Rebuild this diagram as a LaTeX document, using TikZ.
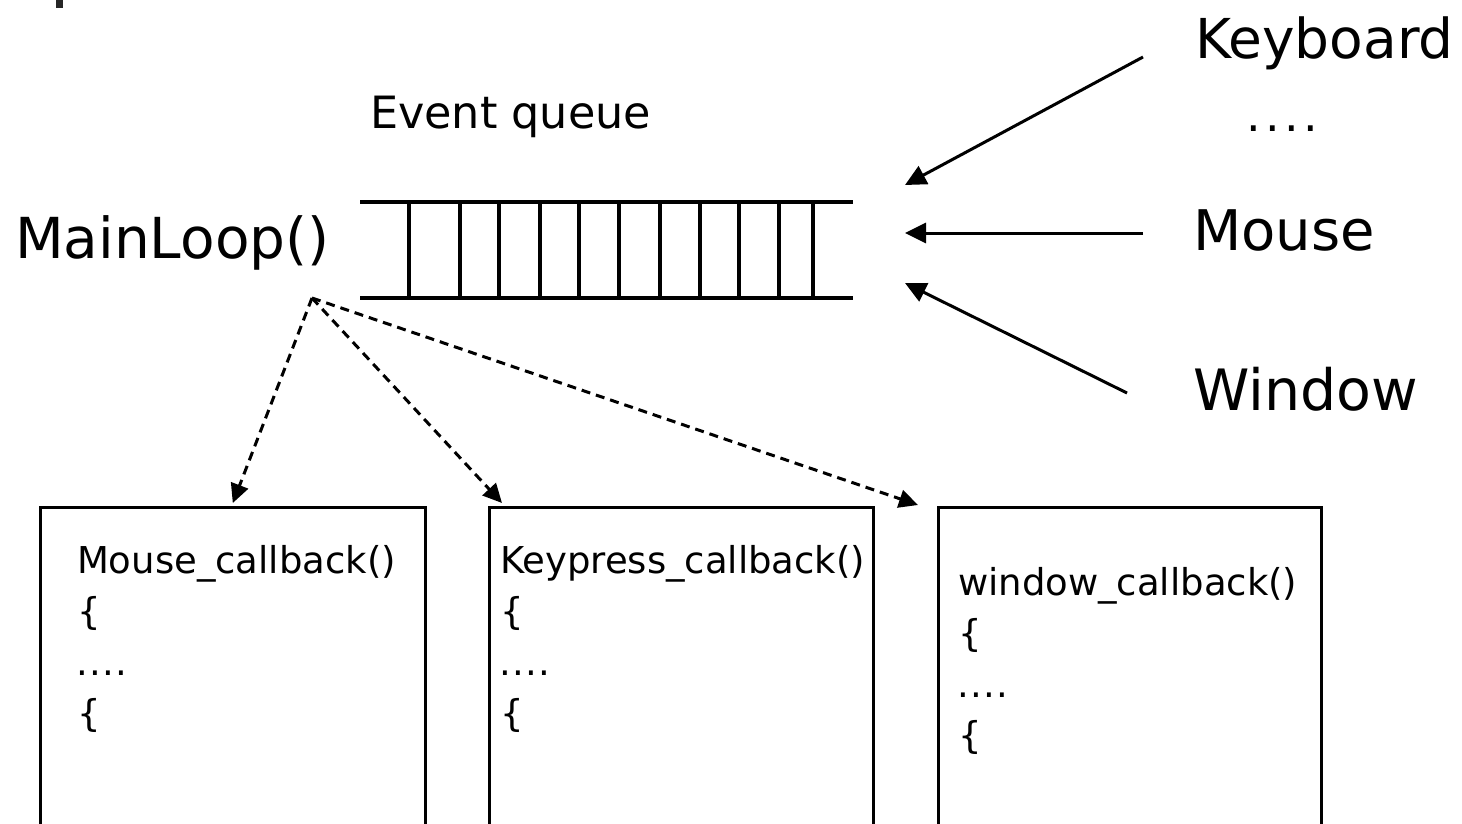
\documentclass[tikz,border=0pt]{standalone}
\usepackage{fontspec}
\setmainfont{DejaVu Sans}
\usetikzlibrary{arrows.meta,calc}
\newcommand{\spdots}[1]{.\kern#1.\kern#1.\kern#1.}
\begin{document}
\begin{tikzpicture}[x=1pt,y=-1pt,
  lbl/.style={anchor=base west, inner sep=0pt, outer sep=0pt},
  big/.style={lbl, font=\fontsize{55}{60}\selectfont},
  mid/.style={lbl, font=\fontsize{44.5}{50}\selectfont},
  code/.style={lbl, font=\fontsize{37}{42}\selectfont},
  qline/.style={line width=3.3pt},
  solidarrow/.style={line width=3pt, -{Triangle[length=21pt,width=20pt]}},
  dasharrow/.style={line width=3pt, dash pattern=on 9pt off 6pt, -{Triangle[length=19pt,width=18pt]}},
  cbox/.style={draw, line width=2.6pt, anchor=north west, inner sep=0pt, minimum height=340pt}]
\useasboundingbox (0,0) rectangle (1462,823);
\clip (0,0) rectangle (1462,823);
% small mark top left
\fill[black!85] (56,0) rectangle (63,8);
% labels
\node[big, font=\fontsize{56.5}{60}\selectfont] (mainloop) at (15,258) {MainLoop()};
\node[mid] (evq) at (370,128) {Event queue};
\node[big, font=\fontsize{55}{60}\selectfont] (kbd) at (1195,58) {Keyboard};
\node[lbl, font=\fontsize{46}{50}\selectfont] (dots) at (1246,131) {\spdots{4.5pt}};
\node[big, font=\fontsize{56}{60}\selectfont] (mouse) at (1193,250) {Mouse};
\node[big, font=\fontsize{57}{60}\selectfont] (window) at (1193,410) {Window};
% queue
\draw[qline] (360,202) -- (853,202);
\draw[qline] (360,298) -- (853,298);
\foreach \x in {409,460,499,540,579,619,660,700,739,779,813}
  \draw[qline] (\x,202) -- (\x,298);
% incoming arrows
\coordinate (kbs) at (1143,57);
\coordinate (kbt) at (905,185);
\coordinate (mss) at (1143,233);
\coordinate (mst) at (905,233);
\coordinate (wns) at (1127,393);
\coordinate (wnt) at (905,283);
\draw[solidarrow] (kbs) -- (kbt);
\draw[solidarrow] (mss) -- (mst);
\draw[solidarrow] (wns) -- (wnt);
% callback boxes
\node[cbox, minimum width=385pt] (box1) at (39,506) {};
\node[cbox, minimum width=384pt] (box2) at (488,506) {};
\node[cbox, minimum width=383pt] (box3) at (937,506) {};
\node[code] (b1l1) at (77,573) {Mouse\_callback()};
\node[code] (b1l2) at (77,624) {\{};
\node[code] (b1l3) at (76,675) {\spdots{1.5pt}};
\node[code] (b1l4) at (77,726) {\{};
\node[code] (b2l1) at (500,573) {Keypress\_callback()};
\node[code] (b2l2) at (500,624) {\{};
\node[code] (b2l3) at (499,675) {\spdots{1.5pt}};
\node[code] (b2l4) at (500,726) {\{};
\node[code] (b3l1) at (958,595) {window\_callback()};
\node[code] (b3l2) at (958,646) {\{};
\node[code] (b3l3) at (957,697) {\spdots{1.5pt}};
\node[code] (b3l4) at (958,748) {\{};
% dispatch arrows
\coordinate (src) at (312,298);
\draw[dasharrow] (src) -- ($(box1.north)+(0,-3)$);
\draw[dasharrow] (src) -- ($(box2.north west)+(14,-3)$);
\draw[dasharrow] (src) -- ($(box3.north west)+(-19,-1)$);
\end{tikzpicture}
\end{document}
